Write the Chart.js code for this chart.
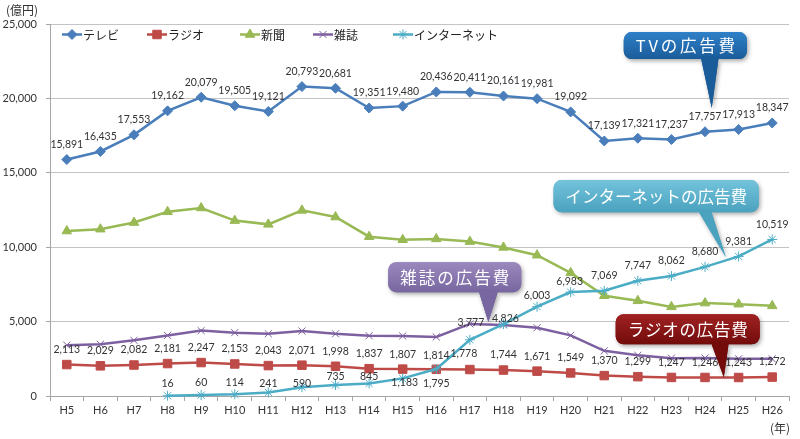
<!DOCTYPE html>
<html><head><meta charset="utf-8">
<script src="https://cdn.jsdelivr.net/npm/chart.js@4/dist/chart.umd.min.js"></script>
<style>html,body{margin:0;padding:0;background:#fff}#wrap{width:800px;height:439px;position:relative}</style>
</head><body><div id="wrap"><canvas id="c" width="800" height="439"></canvas></div>
<script>
const categories = ['H5','H6','H7','H8','H9','H10','H11','H12','H13','H14','H15','H16','H17','H18','H19','H20','H21','H22','H23','H24','H25','H26'];
const tv        = [15891,16435,17553,19162,20079,19505,19121,20793,20681,19351,19480,20436,20411,20161,19981,19092,17139,17321,17237,17757,17913,18347];
const radio     = [2113,2029,2082,2181,2247,2153,2043,2071,1998,1837,1807,1795,1778,1744,1671,1549,1370,1299,1247,1246,1243,1272];
const newspaper = [11087,11211,11657,12379,12636,11787,11535,12474,12027,10707,10500,10559,10377,9986,9462,8276,6739,6396,5990,6242,6170,6057];
const magazine  = [3417,3473,3743,4073,4395,4258,4183,4369,4180,4051,4035,3970,4842,4777,4585,4078,3034,2733,2542,2551,2499,2500];
const internet  = [null,null,null,16,60,114,241,590,735,845,1183,1814,3777,4826,6003,6983,7069,7747,8062,8680,9381,10519];
const seriesNames = ['テレビ','ラジオ','新聞','雑誌','インターネット'];
const yTicks = [0,5000,10000,15000,20000,25000];
const calloutTexts = ['TVの広告費','インターネットの広告費','雑誌の広告費','ラジオの広告費'];

const NUMF = "Lato, 'Noto Sans CJK JP', sans-serif";
const JPF = "'Noto Sans CJK JP', sans-serif";
const fmt = v => v.toLocaleString('en-US');

// label placement tweaks (pixel offsets of label centre from point)
const labelOffsets = {
  0: {},
  1: {11:[0,14], 12:[-6,-16]},
  4: {3:[0,-12],4:[0,-12],5:[0,-12],6:[0,-9],7:[0,-4],8:[0,-8],9:[0,-7],10:[2,4],11:[0,-13],12:[1,-17],13:[2,-6],14:[0,-11],15:[-1,-10]}
};

const labelPlugin = {
  id:'labels',
  afterDatasetsDraw(chart){
    const ctx = chart.ctx;
    ctx.save();
    ctx.font = '10.5px ' + NUMF;
    ctx.fillStyle = '#333';
    ctx.textAlign = 'center';
    ctx.textBaseline = 'middle';
    [0,1,4].forEach(di=>{
      const meta = chart.getDatasetMeta(di);
      const data = chart.data.datasets[di].data;
      meta.data.forEach((pt,i)=>{
        if (data[i] == null) return;
        const off = labelOffsets[di][i] || [0,-15];
        ctx.fillText(fmt(data[i]), pt.x + off[0], pt.y + off[1]);
      });
    });
    ctx.restore();
  }
};

const legendX = [62,147,240,313,393];
const legendPlugin = {
  id:'inlegend',
  afterDatasetsDraw(chart){
    const ctx = chart.ctx;
    ctx.save();
    chart.data.datasets.forEach((ds,i)=>{
      const x = legendX[i], y = 34.5;
      ctx.strokeStyle = ds.borderColor; ctx.lineWidth = 2.5;
      ctx.beginPath(); ctx.moveTo(x,y); ctx.lineTo(x+20,y); ctx.stroke();
      ctx.fillStyle = ds.pointBackgroundColor; ctx.strokeStyle = ds.pointBorderColor;
      ctx.lineWidth = ds.pointBorderWidth;
      Chart.helpers.drawPoint(ctx, {pointStyle: ds.pointStyle, radius: ds.pointRadius, borderWidth: ds.pointBorderWidth, rotation:0}, x+10, y);
      ctx.fillStyle = '#222';
      ctx.font = '12px ' + JPF;
      ctx.textBaseline = 'middle'; ctx.textAlign = 'left';
      ctx.fillText(seriesNames[i], x+21, y+0.5);
    });
    // axis captions
    ctx.fillStyle = '#333';
    ctx.font = '12px ' + JPF;
    ctx.textAlign='left'; ctx.textBaseline='middle';
    ctx.fillText('(億円)', 6, 10.5);
    ctx.textAlign='right';
    ctx.fillText('(年)', 790, 428);
    ctx.restore();
  }
};

// callouts anchored in data space: box (index range, value range), pointer base (index range), tip (index, value)
const callouts = [
  {text:0, box:[16.58,20.25,24460,22646], base:[18.87,19.41], tip:[19.20,19350], top:'#2f80c8', bot:'#1a5c9a'},
  {text:1, box:[14.49,20.60,14508,12356], base:[18.78,19.17], tip:[19.62,9328],  top:'#73c3dc', bot:'#4aa2be'},
  {text:2, box:[9.57,13.53,8993,6975],    base:[12.25,12.85], tip:[12.55,4977],  top:'#9a88bd', bot:'#7866a0'},
  {text:3, box:[16.34,20.63,5495,3477],   base:[19.17,19.71], tip:[19.56,1258],  top:'#a02222', bot:'#730b0b'}
];
const calloutPlugin = {
  id:'callouts',
  afterDraw(chart){
    const ctx = chart.ctx, xs = chart.scales.x, ys = chart.scales.y;
    callouts.forEach(c=>{
      const x1 = xs.getPixelForValue(c.box[0]), x2 = xs.getPixelForValue(c.box[1]);
      const y1 = ys.getPixelForValue(c.box[2]), y2 = ys.getPixelForValue(c.box[3]);
      const b1 = xs.getPixelForValue(c.base[0]), b2 = xs.getPixelForValue(c.base[1]);
      const tx = xs.getPixelForValue(c.tip[0]), ty = ys.getPixelForValue(c.tip[1]);
      ctx.save();
      const g = ctx.createLinearGradient(0,y1,0,y2);
      g.addColorStop(0,c.top); g.addColorStop(1,c.bot);
      ctx.shadowColor='rgba(0,0,0,0.35)'; ctx.shadowBlur=4; ctx.shadowOffsetX=1.5; ctx.shadowOffsetY=2;
      ctx.fillStyle = g;
      ctx.beginPath();
      ctx.roundRect(x1,y1,x2-x1,y2-y1,8);
      ctx.moveTo(b1,y2-2); ctx.lineTo(tx,ty); ctx.lineTo(b2,y2-2); ctx.closePath();
      ctx.fill();
      ctx.shadowColor='transparent';
      ctx.fillStyle = g;
      ctx.beginPath(); ctx.roundRect(x1,y1,x2-x1,y2-y1,8); ctx.fill();
      ctx.beginPath(); ctx.moveTo(b1,y2-3); ctx.lineTo(tx,ty); ctx.lineTo(b2,y2-3); ctx.closePath();
      ctx.fillStyle = c.bot; ctx.fill();
      const txt = calloutTexts[c.text];
      ctx.font = '16.5px ' + JPF;
      ctx.letterSpacing = '0px';
      const w = ctx.measureText(txt).width;
      const n = [...txt].length;
      const target = (x2-x1) - 24;
      const sp = Math.max(0,(target - w)/(n-1));
      ctx.letterSpacing = sp.toFixed(2)+'px';
      ctx.fillStyle = '#fff';
      ctx.textAlign='left'; ctx.textBaseline='middle';
      const tw = w + sp*(n-1);
      ctx.fillText(txt, (x1+x2)/2 - tw/2, (y1+y2)/2 + 0.5);
      ctx.restore();
    });
  }
};

const mk = (label, data, color, style, radius, bw, fill, order) => ({
  label, data, borderColor: color, borderWidth: 2.5, pointStyle: style, pointRadius: radius,
  pointBackgroundColor: fill, pointBorderColor: color, pointBorderWidth: bw, pointHoverRadius: radius,
  tension: 0, spanGaps: false, order, clip: false
});

new Chart(document.getElementById('c'), {
  type:'line',
  data:{
    labels: categories,
    datasets:[
      mk(seriesNames[0], tv, '#4a7ebb', 'rectRot', 5, 1, '#4a7ebb', 4),
      mk(seriesNames[1], radio, '#be4b48', 'rect', 6, 1, '#be4b48', 3),
      mk(seriesNames[2], newspaper, '#98b954', 'triangle', 5.5, 1, '#98b954', 2),
      mk(seriesNames[3], magazine, '#7d60a0', 'crossRot', 5, 1, '#7d60a0', 1),
      mk(seriesNames[4], internet, '#4bacc6', 'star', 5, 1, '#4bacc6', 0)
    ]
  },
  options:{
    responsive:false, animation:false, devicePixelRatio:1,
    layout:{padding:{top:24,right:11,left:0,bottom:0}},
    plugins:{legend:{display:false}, tooltip:{enabled:false}},
    scales:{
      x:{
        offset:true,
        grid:{drawOnChartArea:false, drawTicks:true, tickLength:5, tickColor:'#a6a6a6', offset:true},
        border:{color:'#a6a6a6', width:1},
        ticks:{font:{size:11, family:NUMF}, color:'#333', padding:3, maxRotation:0, autoSkip:false},
        afterFit(s){ s.height = 43; }
      },
      y:{
        min:0, max:25000,
        afterBuildTicks(s){ s.ticks = yTicks.map(v=>({value:v})); },
        grid:{color:'#c4c4c4', tickLength:4, tickColor:'#a6a6a6', lineWidth:1},
        border:{color:'#a6a6a6', width:1},
        ticks:{font:{size:11, family:NUMF}, color:'#333', padding:9, callback:v=>fmt(v)},
        afterFit(s){ s.width = 50; }
      }
    }
  },
  plugins:[labelPlugin, legendPlugin, calloutPlugin]
});
</script></body></html>
